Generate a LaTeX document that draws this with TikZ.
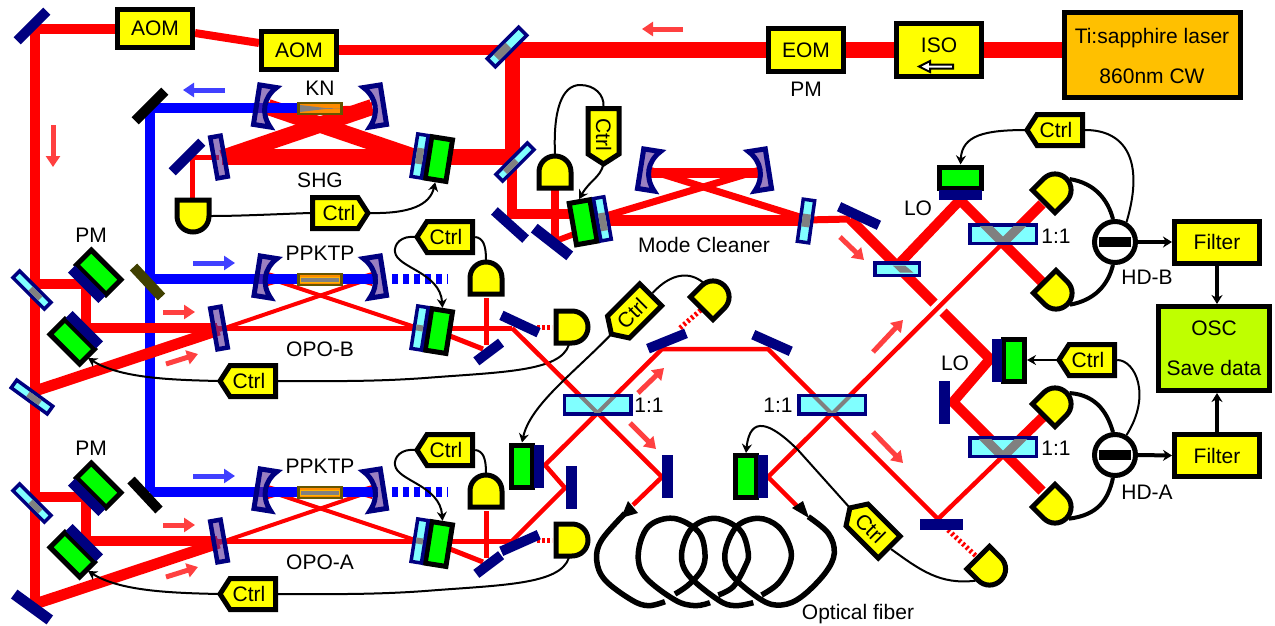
\documentclass[tikz,border=0pt]{standalone}
\usepackage{fontspec}
\setmainfont{Liberation Sans}
\usetikzlibrary{arrows.meta,calc}
\definecolor{navyc}{RGB}{0,0,128}
\definecolor{cyanc}{RGB}{128,255,255}
\definecolor{purc}{RGB}{87,42,150}
\definecolor{greenc}{RGB}{0,255,0}
\definecolor{yelc}{RGB}{255,255,0}
\definecolor{lasc}{RGB}{255,192,0}
\definecolor{oscc}{RGB}{191,255,0}
\definecolor{goldb}{RGB}{102,85,0}
\definecolor{olivec}{RGB}{64,64,0}
\definecolor{ltred}{RGB}{255,64,64}
\definecolor{ltblue}{RGB}{64,64,255}
\definecolor{grayc}{RGB}{128,128,128}
\tikzset{
  lab/.style={font=\fontsize{21}{24}\selectfont,inner sep=0pt,text=black},
  boxy/.style={draw=black,line width=5pt,fill=yelc,inner sep=0pt,font=\fontsize{21}{24}\selectfont},
  beam/.style={draw=red,line join=miter},
  blueb/.style={draw=blue,line width=10pt,line join=miter},
  redflow/.style={draw=ltred,line width=5pt,-{Triangle[length=11pt,width=14pt]}},
  blueflow/.style={draw=ltblue,line width=5pt,-{Triangle[length=11pt,width=14pt]}},
  wire/.style={draw=black,line width=2pt},
  wirea/.style={draw=black,line width=2pt,-{Stealth[length=9pt,width=10pt]}},
  thickw/.style={draw=black,line width=4pt},
  thicka/.style={draw=black,line width=4pt,-{Stealth[length=9pt,width=11pt]}},
  fibre/.style={draw=black,line width=5.5pt},
  dotbeam/.style={draw=red,line width=5pt,dash pattern=on 2.5pt off 2.5pt},
  barn/.style={fill=navyc,inner sep=0pt},
  gbox/.style={draw=black,line width=5pt,fill=greenc,inner sep=0pt,minimum width=21pt,minimum height=42pt},
  cmir/.style={draw=navyc,line width=3.5pt,fill=cyanc,inner sep=0pt,minimum width=10.5pt,minimum height=43pt},
  pbar/.style={draw=navyc,line width=4.5pt,fill=purc,fill opacity=.6,inner sep=0pt,minimum width=10.5pt,minimum height=41.5pt},
  curv/.style={draw=navyc,line width=5pt,fill=purc,fill opacity=.6,line join=miter},
  bsn/.style={draw=navyc,line width=3.5pt,fill=cyanc,inner sep=0pt},
  pdn/.style={draw=black,line width=5pt,fill=yelc,line join=miter},
  pdanchor/.style={circle,inner sep=0pt,minimum size=36pt},
  ctrlp/.style={draw=black,line width=5pt,fill=yelc,line join=miter},
  ctrln/.style={inner sep=0pt,minimum width=58pt,minimum height=36pt,font=\fontsize{21}{24}\selectfont},
  xtal/.style={draw=goldb,line width=2.5pt,fill=orange!90!yellow,inner sep=0pt,minimum width=43pt,minimum height=11pt},
}
% navy mirror with green block
\newcommand\pztN[4]{\begin{scope}[shift={(#2,#3)},rotate=#4,transform shape]
  \node[gbox] (#1) at (13,0) {};
  \node[barn,minimum width=10pt,minimum height=43pt] (#1m) at (-4,0) {};
\end{scope}}
% cyan mirror with green block
\newcommand\pztC[6]{\begin{scope}[shift={(#2,#3)},rotate=#4,transform shape]
  \node[gbox] (#1) at (13,0) {};
  \node[cmir] (#1m) at (-6.5,0) {};
  \fill[grayc] (-10,#5) rectangle (-3,#6);
\end{scope}}
% tilted beam splitter
\newcommand\bsm[8]{\pgfmathsetmacro\bsw{#5-3.5}\pgfmathsetmacro\bsh{#6-3.5}\pgfmathsetmacro\bsi{#6/2-3.5}
 \begin{scope}[shift={(#2,#3)},rotate=#4,transform shape]
  \node[bsn,minimum width=\bsw pt,minimum height=\bsh pt] (#1) at (0,0) {};
  \fill[grayc] (#7,-\bsi) rectangle (#8,\bsi);
 \end{scope}}
% plain mirror
\newcommand\plainm[7]{\node[fill=#7,inner sep=0pt,minimum width=#5pt,minimum height=#6pt,rotate=#4] (#1) at (#2,#3) {};}
% curved mirror
\newcommand\curved[5]{\begin{scope}[shift={(#2,#3)},rotate=#4,xscale=#5]
  \draw[curv] (-8.5,-20) -- (8.5,-20) .. controls (-3,-8) and (-3,8) .. (8.5,20) -- (-8.5,20) -- cycle;
  \coordinate (#1) at (0,0);
\end{scope}}
% photodiode
\newcommand\mkpd[4]{\begin{scope}[shift={(#2,#3)},rotate=#4]
  \draw[pdn] (-16,-16) -- (0,-16) .. controls (9,-16) and (16,-9) .. (16,0) .. controls (16,9) and (9,16) .. (0,16) -- (-16,16) -- cycle;
\end{scope}\node[pdanchor] (#1) at (#2,#3) {};}
% controller tag
\newcommand\mkctrl[5]{\begin{scope}[shift={(#2,#3)},rotate=#4,xscale=#5]
  \draw[ctrlp] (-27,0) -- (-17,-15.5) -- (28.5,-15.5) -- (28.5,15.5) -- (-17,15.5) -- cycle;
\end{scope}
\begin{scope}[shift={(#2,#3)},rotate=#4,transform shape]
  \node[ctrln] (#1) at (#5*2,0) {Ctrl};
\end{scope}}
% 1:1 splitter
\newcommand\splitter[7]{\pgfmathsetmacro\sw{#4-3.5}\pgfmathsetmacro\sh{#5-3.5}
 \node[bsn,minimum width=\sw pt,minimum height=\sh pt] (#1) at (#2,#3) {};
 \begin{scope}
  \clip ($(#2,#3)+(-\sw/2+1.75,-\sh/2+1.75)$) rectangle ($(#2,#3)+(\sw/2-1.75,\sh/2-1.75)$);
  \draw[grayc,line width=#6pt] (#2-30,#7-30) -- (#2,#7) -- (#2+30,#7-30);
 \end{scope}}
% homodyne detector
\newcommand\mkhd[3]{\node[circle,draw=black,line width=5pt,fill=white,minimum size=41pt,inner sep=0pt] (#1) at (#2,#3) {};
 \node[fill=black,minimum width=32pt,minimum height=10pt,inner sep=0pt] (#1bar) at (#2,#3) {};}
% OPO block
\newcommand\opo[4]{\begin{scope}[shift={(0,#2)}]
  \coordinate (#1a) at (35,284); \coordinate (#1b) at (86,284); \coordinate (#1c) at (86,328);
  \coordinate (#1d) at (217,328); \coordinate (#1f) at (512,328); \coordinate (#1g) at (35,391);
  \coordinate (#1h) at (219,330); \coordinate (#1i) at (372,278); \coordinate (#1j) at (268,278);
  \coordinate (#1k) at (418,328);
  \draw[beam,line width=10pt] (#1a) -- (#1b) -- (#1c) -- (#1d);
  \draw[beam,line width=5pt] (#1d) -- (#1f);
  \draw[beam,line width=11pt] (#1g) -- (#1h);
  \draw[beam,line width=4pt] (#1h) -- (#1i);
  \draw[beam,line width=4pt] (#1j) -- (#1k);
  \fill[red] (268,272) .. controls (280,276) and (290,277) .. (298,277) -- (342,277) .. controls (350,277) and (360,276) .. (372,272) -- (372,286) .. controls (360,282) and (350,281) .. (342,281) -- (298,281) .. controls (290,281) and (280,282) .. (268,286) -- cycle;
  \coordinate (#1t) at (150,279); \coordinate (#1u) at (378,279);
  \draw[blueb] (#1t) -- (#1u);
  \draw[draw=blue,line width=10pt,dash pattern=on 6pt off 5pt] (392,279) -- (448,279);
  \draw[beam,line width=5pt] (486,298) -- (486,345);
  \draw[beam,line width=5pt] (450,336) -- (483,349);
  \draw[dotbeam] (537,327) -- (552,327);
  \draw[redflow] (163,312) -- (195,312);
  \draw[redflow] (166,364) -- (198,354);
  \draw[blueflow] (193,263) -- (235,263);
  \node[pbar,rotate=10] (#1flat) at (219,328) {};
  \curved{#1cl}{265.5}{277}{-9}{1}
  \curved{#1cr}{375}{277}{9}{-1}
  \node[xtal] (#1x) at (320,279.5) {};
  \fill[orange!60!yellow] (300,276.5) rectangle (340,282.5);
  \fill[grayc] (301,277.5) rectangle (339,281.5);
  \pztC{#1pzt}{426}{329}{-9}{-3}{3}
  \pztN{#1pmu}{89.5}{281.5}{45}
  \pztN{#1pml}{81.5}{332.5}{225}
  \mkpd{#1pdt}{486}{278}{90}
  \mkpd{#1pdr}{572}{327}{0}
  \mkctrl{#1ctu}{444}{237}{0}{1}
  \mkctrl{#1ctl}{247}{381}{0}{1}
  \draw[wire] (#1pdt.90) .. controls (486,245) and (483,238) .. (#1ctu.east);
  \draw[wirea] (#1ctu.west) .. controls (400,235) and (394,245) .. (395,252) .. controls (397,268) and (440,272) .. (#1pzt.north);
  \draw[wire] (#1pdr.-100) .. controls (560,372) and (500,372) .. (425,378) .. controls (370,382) and (320,381) .. (#1ctl.east);
  \draw[wirea] (#1ctl.west) .. controls (170,380) and (120,378) .. (88,358);
  \node[lab] (#1lx) at (320,253) {PPKTP};
  \node[lab] (#1lo) at (320,349.5) {#3};
  \node[lab] (#1lp) at (91,235) {PM};
\end{scope}}
\begin{document}
\begin{tikzpicture}[x=1pt,y=-1pt]
\fill[white] (0,0) rectangle (1275,625);
\path[use as bounding box] (0,0) rectangle (1275,625);

% blue trunk
\coordinate (bk0) at (298,108); \coordinate (bk1) at (150,108); \coordinate (bk2) at (150,492);
\draw[blueb] (bk2) -- (bk1);

% left red trunk
\coordinate (m1) at (35,29); \coordinate (m2) at (35,605);
\draw[beam,line width=10pt] (115,29) -- (m1) -- (m2);
\draw[redflow] (53,125) -- (53,167);
\draw[beam,line width=8pt] (195,33) -- (259,43);
\draw[beam,line width=10pt] (339,50) -- (507,50);
\draw[beam,line width=16pt] (1062,50) -- (512,50);
\draw[beam,line width=15pt] (512.5,44) -- (512.5,157);
\draw[beam,line width=16pt] (512,157) -- (222,157);
\draw[beam,line width=10pt] (512,157) -- (512,214) -- (575,214);
\draw[beam,line width=16pt] (222,158) -- (372,107);
\draw[beam,line width=16pt] (418,158) -- (268,107);
\fill[red] (268,102) .. controls (280,106) and (290,106) .. (298,106) -- (342,106) .. controls (350,106) and (360,106) .. (372,102) -- (372,115) -- (268,115) -- cycle;
\draw[blueb] (bk1) -- (bk0);
\draw[beam,line width=5pt] (219,157) -- (192.5,157) -- (192.5,200);
\draw[redflow] (683,29) -- (642,29);
\draw[blueflow] (225,90) -- (183,90);

% OPO blocks
\opo{b}{0}{OPO-B}{}
\opo{a}{213}{OPO-A}{}

% mode cleaner
\draw[beam,line width=8pt] (555,190) -- (555,242);
\draw[beam,line width=6pt] (553,242) -- (577,233);
\draw[beam,line width=11pt] (600,220.5) -- (806,220.5);
\draw[beam,line width=7pt] (606,216) -- (760,170);
\draw[beam,line width=7pt] (649,170) -- (803,218);
\draw[beam,line width=10pt] (649,173) -- (760,173);
\draw[beam,line width=7pt] (806,220) -- (850,219);
\draw[redflow] (840,237) -- (864,260);

% central interferometer
\coordinate (p1) at (512,328); \coordinate (p2) at (662,477); \coordinate (p3) at (633,505);
\coordinate (q1) at (512,541); \coordinate (q2) at (565,488); \coordinate (q3) at (545,465);
\coordinate (q4) at (662,349); \coordinate (q5) at (768,349); \coordinate (q6) at (938,519);
\coordinate (q7) at (1003,456); \coordinate (q8) at (1045,415);
\coordinate (r1) at (768,477); \coordinate (r2) at (1003,243); \coordinate (r3) at (1042,204);
\coordinate (r4) at (798,507);
\draw[beam,line width=4.5pt] (p1) -- (p2) -- (p3);
\draw[beam,line width=4.5pt] (q1) -- (q2) -- (q3) -- (q4) -- (q5) -- (q6) -- (q7);
\draw[beam,line width=10pt] (q7) -- (q8);
\draw[beam,line width=10pt] (r2) -- (r3);
\draw[beam,line width=10pt] (850,219) -- (934,303);
\draw[beam,line width=10pt] (943,312) -- (990,359) -- (953,402) -- (1042,491);
\draw[beam,line width=10pt] (897,266) -- (960,200) -- (1048,288);
\draw[beam,line width=4.5pt] (r4) -- (r1) -- (r2);
\draw[dotbeam] (680,328) -- (702,309);
\draw[dotbeam] (948,530) -- (977,557);
\draw[redflow] (638,393) -- (664,368);
\draw[redflow] (630,423) -- (656,449);
\draw[redflow] (873,352) -- (903,320);
\draw[redflow] (873,432) -- (903,463);

% SHG components
\node[pbar,rotate=10] (shgflat) at (219,157) {};
\curved{shgl}{265}{106}{-9}{1}
\curved{shgr}{375}{106}{9}{-1}
\node[xtal] (kn) at (320,108.5) {};
\fill[grayc] (300,105) -- (325,108) -- (340,108.5) -- (325,109) -- (300,112) -- cycle;
\pztC{shgpzt}{426}{157}{-9}{-8}{8}

% mirrors and splitters
\plainm{mtl}{32}{26}{45}{42}{10}{navyc}
\plainm{mblk}{150}{106}{45}{42}{10}{black}
\plainm{mshg}{187}{157}{45}{42}{10}{navyc}
\plainm{mdb}{147.5}{282}{-47}{41}{10}{olivec}
\plainm{mda}{145}{495}{-47}{41}{10}{black}
\plainm{mbot}{32}{607}{-36}{44}{11}{navyc}
\plainm{mc1}{510}{225}{-42}{42}{10}{navyc}
\plainm{mc2}{552}{242}{-38}{45}{11}{navyc}
\plainm{mb1}{520}{324}{-25}{41}{10}{navyc}
\plainm{mb2}{488.7}{352}{37}{31}{10}{navyc}
\plainm{ma1}{520}{543}{24}{41}{10}{navyc}
\plainm{ma2}{488.7}{564.5}{37}{31}{10}{navyc}
\plainm{ma3}{571.5}{487.5}{0}{11}{43}{navyc}
\plainm{ctop1}{667}{341}{22}{41}{10}{navyc}
\plainm{ctop2}{772}{343}{-24}{41}{10}{navyc}
\plainm{cmid}{667.5}{476.5}{0}{11}{43}{navyc}
\plainm{cbot}{941.5}{524.5}{0}{43}{11}{navyc}
\plainm{mlo1}{859}{216}{-25}{44}{10}{navyc}
\plainm{mlo2}{944.5}{402.5}{0}{11}{43}{navyc}
\bsm{bs1}{507}{47}{45}{48}{15}{-15}{2}
\bsm{bs2}{515}{162}{45}{48}{13}{-14}{2}
\bsm{bs3}{32}{290}{-45}{48}{13}{-2}{12}
\bsm{bs4}{32}{397}{-36}{48}{13}{-5}{10}
\bsm{bs5}{32}{503}{-45}{48}{13}{-2}{12}
\bsm{bsmc}{806}{221}{82}{46}{15}{-6}{7}
\pztC{mcpzt}{596}{220}{190}{-12}{6}
\curved{mcl}{649}{170}{-9}{1}
\curved{mcr}{760}{170}{9}{-1}
\pztN{pzta}{535}{466}{180}
\pztN{pztc}{759}{476.5}{180}
\pztN{pztlo1}{960.5}{190.5}{90}
\pztN{pztlo2}{1001}{360}{0}
\node[bsn,minimum width=44.5pt,minimum height=12.5pt] (bslo) at (897,269) {};
\fill[grayc] (892.7,265.5) -- (905,265.5) -- (913.3,272.5) -- (900,272.5) -- cycle;
\splitter{s1}{597.5}{404.5}{70}{22}{4}{413}
\splitter{s2}{832}{404.5}{70}{22}{4}{414}
\splitter{s3}{1003}{234}{70}{22}{9}{243}
\splitter{s4}{1003}{447}{70}{22}{9}{457}

% boxes
\node[boxy,minimum width=75pt,minimum height=38pt] (aom1) at (155,28.5) {AOM};
\node[boxy,minimum width=75pt,minimum height=38pt] (aom2) at (299,50) {AOM};
\node[boxy,minimum width=75pt,minimum height=43pt] (eom) at (806,50) {EOM};
\node[boxy,minimum width=85pt,minimum height=53pt] (iso) at (939,50) {};
\node[lab] (isol) at (939,45) {ISO};
\draw[draw=black,fill=white,line width=2pt] (953,64.5) -- (930,64.5) -- (930,61) -- (919,66.5) -- (930,72) -- (930,68.5) -- (953,68.5) -- cycle;
\node[boxy,fill=lasc,minimum width=176pt,minimum height=85pt] (laser) at (1152.5,55) {};
\node[lab] (las1) at (1152,38) {Ti:sapphire laser};
\node[lab] (las2) at (1152,76) {860nm CW};
\node[boxy,minimum width=85pt,minimum height=42pt] (filb) at (1217,242) {Filter};
\node[boxy,minimum width=85pt,minimum height=42pt] (fila) at (1217,455.5) {Filter};
\node[boxy,fill=oscc,minimum width=111pt,minimum height=84pt] (osc) at (1214,348.5) {};
\node[lab] (osc1) at (1214,328) {OSC};
\node[lab] (osc2) at (1214,368) {Save data};

% detectors
\mkpd{pdshg}{193}{216}{-90}
\mkpd{pdmc}{555}{172}{90}
\mkpd{pdmid}{713}{297}{45}
\mkpd{pdbot}{989.5}{569}{-45}
\mkpd{pdb1}{1055}{190}{45}
\mkpd{pdb2}{1056}{293}{-45}
\mkpd{pda1}{1055}{404}{45}
\mkpd{pda2}{1055}{507}{-45}
\mkhd{hdb}{1115}{242}
\mkhd{hda}{1115}{455}

% controllers
\mkctrl{cshg}{341}{213}{0}{-1}
\mkctrl{cmc}{603.5}{137}{-90}{-1}
\mkctrl{cmid2}{630.5}{315}{45}{1}
\mkctrl{cbot2}{869}{527}{-45}{1}
\mkctrl{cb}{1054}{130}{0}{1}
\mkctrl{ca}{1086}{360}{0}{1}

% wires
\draw[wire] (pdshg.0) .. controls (240,216) and (280,214) .. (cshg.west);
\draw[wirea] (cshg.east) .. controls (410,214) and (430,205) .. (shgpzt.south);
\draw[wire] (pdmc.90) .. controls (553,110) and (562,85) .. (580,85) .. controls (595,85) and (604,95) .. (cmc.west);
\draw[wirea] (cmc.east) .. controls (600,178) and (590,180) .. (mcpzt.south);
\draw[wire] (cmid2.east) .. controls (672,272) and (690,272) .. (pdmid.125);
\draw[wirea] (cmid2.west) .. controls (575,372) and (530,405) .. (pzta.south);
\draw[wirea] (cbot2.west) -- (798,450) .. controls (770,422) and (750,415) .. (pztc.south);
\draw[wire] (cbot2.east) .. controls (920,570) and (940,585) .. (pdbot.220);
\draw[wirea] (cb.west) .. controls (985,130) and (962,135) .. (pztlo1.east);
\draw[wire] (cb.east) .. controls (1125,130) and (1145,160) .. (hdb.60);
\draw[wirea] (ca.west) -- (pztlo2.east);
\draw[wire] (ca.east) .. controls (1135,360) and (1152,395) .. (hda.60);
\draw[thickw] (pdb1.37) .. controls (1095,183) and (1108,200) .. (hdb.95);
\draw[thickw] (pdb2.-40) .. controls (1095,300) and (1108,285) .. (hdb.-95);
\draw[thickw] (pda1.37) .. controls (1098,395) and (1108,415) .. (hda.95);
\draw[thickw] (pda2.-40) .. controls (1098,515) and (1108,500) .. (hda.-95);
\draw[thicka] (hdb.east) -- (filb.west);
\draw[thicka] (hda.east) -- (fila.west);
\draw[thicka] (filb.south) -- (filb.south |- osc.north);
\draw[thicka] (fila.north) -- (fila.north |- osc.south);

% fibre
\begin{scope}[shift={(425pt,-420pt)},x=0.3333pt,y=-0.3333pt]
 \draw[fibre] plot[smooth,tension=.6] coordinates {(600,280) (530,360) (515,420) (540,480) (620,540) (670,557) (720,545)};
 \draw[fibre] plot[smooth,tension=.6] coordinates {(750,522) (790,495) (830,450) (840,400) (820,335) (745,295) (670,320) (640,400) (660,470) (750,540) (810,557) (855,548)};
 \draw[fibre] plot[smooth,tension=.6] coordinates {(880,525) (925,500) (960,440) (970,400) (945,330) (870,295) (800,325) (770,400) (790,465) (880,540) (930,557) (985,548)};
 \draw[fibre] plot[smooth,tension=.6] coordinates {(1010,525) (1060,490) (1095,430) (1095,380) (1060,320) (1000,295) (935,320) (900,400) (920,465) (1010,540) (1070,555) (1130,530) (1200,460) (1228,400) (1210,340) (1150,290)};
\end{scope}
\fill[black] (628,501) -- (638,513) -- (621,518) -- cycle;
\fill[black] (803,501) -- (792,508) -- (809,518) -- cycle;

% labels
\node[lab] (tkn) at (320,88) {KN};
\node[lab] (tshg) at (320,180) {SHG};
\node[lab] (tpm) at (806,89) {PM};
\node[lab] (tmc) at (704,245) {Mode Cleaner};
\node[lab] (tlo1) at (918,208) {LO};
\node[lab] (tlo2) at (955,363) {LO};
\node[lab] (thb) at (1147,277) {HD-B};
\node[lab] (tha) at (1147,492) {HD-A};
\node[lab] (tf) at (858,614) {Optical fiber};
\node[lab] (t1) at (649,405) {1:1};
\node[lab] (t2) at (778,405) {1:1};
\node[lab] (t3) at (1056,236) {1:1};
\node[lab] (t4) at (1056,448) {1:1};
\end{tikzpicture}
\end{document}
